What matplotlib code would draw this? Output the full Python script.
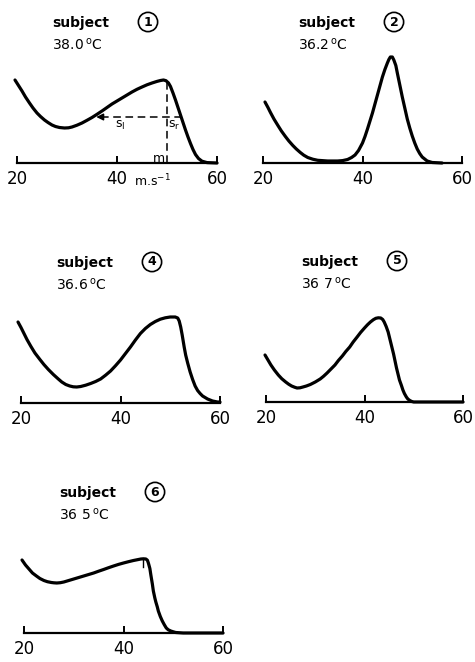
import matplotlib
matplotlib.use("Agg")
import matplotlib.pyplot as plt

plt.rcParams['font.family'] = ['DejaVu Sans']

# speed (m.s-1) and relative amplitude
speed_1 = [19.6, 20.3, 21, 21.7, 22.5, 23.2, 24, 24.7, 25.5, 26.2, 27, 27.7, 28.5, 29.5, 30.3,
           31, 32, 33, 34, 35, 36, 37, 38, 39, 40, 41, 42, 43, 44, 45, 46, 47, 48, 48.7, 49.3,
           49.8, 50.3, 50.7, 51.2, 51.7, 52.2, 52.7, 53.2, 53.7, 54.2, 54.7, 55.2, 55.7, 56.3,
           57, 58, 60]
amp_1 = [83, 77.5, 72, 66, 60, 55, 50, 46.5, 43, 40.5, 38, 36.5, 35.5, 35, 35.2,
         36, 37.8, 40, 42.7, 45.5, 48.7, 52, 55.5, 59, 62, 65, 68, 71, 73.7, 76, 78.2, 80, 81.6, 82.5, 83,
         82.3, 80, 76.5, 70, 63, 55.5, 48, 40.5, 33, 26, 19.5, 13.5, 8.5, 4.5,
         1.8, 0.4, 0]

speed_2 = [20.4, 21, 21.5, 22.2, 23, 23.7, 24.5, 25.2, 26, 26.7, 27.5, 28.2, 29, 30, 31, 33, 35,
           36, 37, 37.8, 38.5, 39.2, 40, 40.5, 41, 41.5, 42, 42.5, 43, 43.5, 44, 44.5, 45,
           45.3, 45.6, 46, 46.3, 46.7, 47, 47.5, 48, 48.5, 49, 49.5, 50, 50.5, 51, 51.5, 52,
           53, 54, 56]
amp_2 = [61, 55.5, 50.5, 44, 37.5, 32, 26.5, 22, 17.5, 14, 10.5, 7.8, 5.5, 3.8, 2.7, 2, 2,
         2.4, 3.5, 5.5, 8, 12.5, 20, 26.5, 34, 42, 50, 59, 68, 77, 86, 93.5, 100,
         103.5, 106, 106, 103, 97.5, 90, 78, 66, 55, 44, 35, 27, 20, 14, 9.5, 6,
         2, 0.5, 0]

speed_4 = [19.4, 20, 20.5, 21.2, 22, 22.8, 23.8, 24.6, 25.5, 26.5, 27.5, 28.2, 29, 29.8, 30.5,
           31.2, 32, 33, 34, 35, 36, 37, 38, 39, 40, 41, 42, 43, 44, 45, 46, 47, 48, 49, 50,
           51, 51.5, 51.8, 52.1, 52.4, 52.8, 53.1, 53.5, 54, 54.5, 55, 55.5, 56, 56.5, 57,
           57.5, 58.5, 59.5, 60]
amp_4 = [81, 75.5, 70.5, 63.5, 56.5, 50, 43.5, 38.5, 33.5, 28.5, 24, 21, 18.5, 17, 16.2,
         16, 16.5, 17.8, 19.5, 21.5, 24, 27.8, 32, 37.3, 43, 49.5, 56, 63, 69.5, 74.5, 78.5, 81.5, 83.8, 85.2, 86,
         86, 85, 82, 76, 68, 56, 48, 40, 31, 23.5, 17, 12.5, 9.5, 7, 5.5,
         4, 2, 1, 1]

speed_5 = [19.8, 20.4, 21, 21.7, 22.5, 23.2, 24, 24.6, 25.2, 25.8, 26.3, 26.9, 27.5, 28.2, 29,
           30, 31, 31.7, 32.4, 33.2, 34, 34.7, 35.5, 36.2, 37, 37.7, 38.5, 39.2, 40, 40.6,
           41.2, 41.8, 42.3, 42.8, 43.3, 43.7, 44.0, 44.4, 44.8, 45.1, 45.4, 45.9, 46.2, 46.5,
           46.8, 47.1, 47.5, 47.8, 48.1, 48.5, 48.8, 49.2, 49.6, 50, 60]
amp_5 = [47, 42, 37, 32, 27, 23.3, 20, 17.8, 16, 14.8, 14, 14.2, 15, 16, 17.5,
         20, 23, 25.8, 29, 33, 37, 41.5, 46, 50.5, 55, 60, 65, 69.5, 74, 77.2,
         80, 82.3, 83.7, 84.2, 84, 82.5, 80, 75.5, 70, 64, 58, 48, 41, 34,
         28, 22, 16.5, 12, 8.5, 5, 3, 1.5, 0.5, 0, 0]

speed_6 = [19.6, 20.3, 21, 21.7, 22.5, 23.2, 24, 24.7, 25.5, 26, 26.6, 27.3, 28, 29, 30, 31, 32,
           33, 34, 35, 36, 37, 38, 39, 40, 41, 42, 42.8, 43.5, 44, 44.5, 44.8, 45, 45.3, 45.5,
           45.8, 46, 46.3, 46.5, 46.8, 47, 47.4, 47.8, 48.2, 48.6, 49, 49.5, 50, 50.5, 52, 60]
amp_6 = [73, 68, 64, 60, 57, 54.5, 52.5, 51.3, 50.5, 50.2, 50, 50.3, 51, 52.5, 54, 55.5, 57,
         58.5, 60, 61.8, 63.5, 65.3, 67, 68.6, 70, 71.3, 72.5, 73.3, 74, 74.2, 74, 72.8, 70, 64.5, 58,
         49, 42, 35, 31, 26, 22, 16.5, 12, 8.3, 5, 3.2, 2, 1.2, 0.5, 0, 0]

subjects = ['1', '2', '4', '5', '6']
temps = ['38.0', '36.2', '36.6', '36 7', '36 5']
speeds = [speed_1, speed_2, speed_4, speed_5, speed_6]
amps = [amp_1, amp_2, amp_4, amp_5, amp_6]
ticks = [20, 40, 60]

# subject 1 annotation: mode and half-height spread
mode_1 = 49.9
peak_1 = 83
half_1 = 46
s_left = 35.3
s_right = 52.6
mode_6 = 43.9

W, H = 475, 662
fig = plt.figure(figsize=(W / 100, H / 100), dpi=100)

# panel placement in pixels: x of 20, x of 60, y of the axis line
layout = [(17, 217, 163), (263, 462, 163), (21, 220, 403), (266, 463, 402), (24, 223, 633)]
ax_h = 115

axes = []
for (x0, x1, yb), sp, am, subj, temp in zip(layout, speeds, amps, subjects, temps):
    ax = fig.add_axes([x0 / W, (H - yb) / H, (x1 - x0) / W, ax_h / H])
    ax.plot(sp, am, color='black', lw=2.3, solid_joinstyle='round', solid_capstyle='round',
            clip_on=False)
    ax.set_xlim(20, 60)
    ax.set_ylim(0, ax_h)
    for s in ['left', 'right', 'top']:
        ax.spines[s].set_visible(False)
    ax.spines['bottom'].set_linewidth(1.6)
    ax.set_yticks([])
    ax.set_xticks(ticks)
    ax.tick_params(axis='x', direction='in', length=5, width=1.4, labelsize=12, pad=5)
    ax.patch.set_alpha(0)
    axes.append(ax)

    fig.text((x0 + 35) / W, 1 - (yb - 140) / H, 'subject', fontsize=10, fontweight='bold',
             va='center', ha='left')
    fig.text((x0 + 35) / W, 1 - (yb - 118) / H, temp + r'$\,^{\mathrm{o}}$C', fontsize=10,
             va='center', ha='left')
    fig.text((x0 + 131) / W, 1 - (yb - 141) / H, subj, fontsize=9, fontweight='bold',
             va='center', ha='center',
             bbox=dict(boxstyle='circle,pad=0.25', fc='white', ec='black', lw=1.2))

# subject 1 construction lines
ax = axes[0]
ax.plot([mode_1, mode_1], [0, peak_1], color='black', lw=1.1, ls=(0, (5, 3)))
ax.plot([s_left + 1.5, s_right], [half_1, half_1], color='black', lw=1.1, ls=(0, (5, 3)))
ax.annotate('', xy=(s_left, half_1), xytext=(s_left + 2.5, half_1),
            arrowprops=dict(arrowstyle='-|>', color='black', lw=1.1, mutation_scale=10))
ax.text(40.6, 38, r'$\mathrm{s_l}$', fontsize=9, ha='center', va='center')
ax.text(51.4, 38, r'$\mathrm{s_r}$', fontsize=9, ha='center', va='center')
ax.text(48.3, 5, 'm', fontsize=9, ha='center', va='center')
ax.text(47, -18, r'm.s$^{-1}$', fontsize=9, ha='center', va='center', clip_on=False)

# small mark under the peak of subject 6
axes[4].plot([mode_6, mode_6], [66, 74], color='black', lw=1.0)

fig.savefig('out.png', dpi=100, facecolor='white')
